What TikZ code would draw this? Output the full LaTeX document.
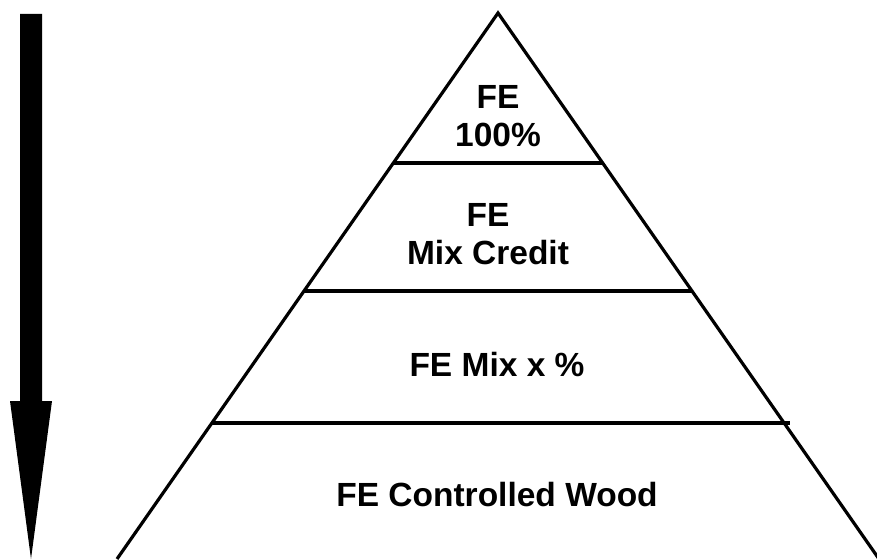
\documentclass[tikz,border=0pt]{standalone}
\usepackage{fontspec}
\setmainfont{Liberation Sans}
\usetikzlibrary{calc}
\begin{document}
\begin{tikzpicture}[
  x=1pt, y=-1pt,
  layer/.style={font=\bfseries\fontsize{33.5}{38}\selectfont, align=center},
  edge/.style={line width=3.2pt, line join=miter}
]
\useasboundingbox (0,0) rectangle (877,559);

% arrow on the left
\fill (20,14) -- (42,14) -- (42,401) -- (52,401) -- (31,559) -- (10,401) -- (20,401) -- cycle;

% pyramid
\coordinate (apex) at (498,13);
\coordinate (baseL) at (117,559);
\coordinate (baseR) at (879,559);
\draw[edge] (baseL) -- (apex) -- (baseR);
\draw[edge] ($(apex)!0.2747!(baseL)$) -- ($(apex)!0.2747!(baseR)$);
\draw[edge] ($(apex)!0.5092!(baseL)$) -- ($(apex)!0.5092!(baseR)$);
\draw[edge] ($(apex)!0.7509!(baseL)$) -- ($(apex)!0.7509!(baseR) + (6,0)$);

\node[layer] (full) at (498,116) {FE\\100\%};
\node[layer] (credit) at (488,234) {FE\\Mix Credit};
\node[layer] (mix) at (497,364) {FE Mix x \%};
\node[layer] (wood) at (497,495) {FE Controlled Wood};
\end{tikzpicture}
\end{document}
